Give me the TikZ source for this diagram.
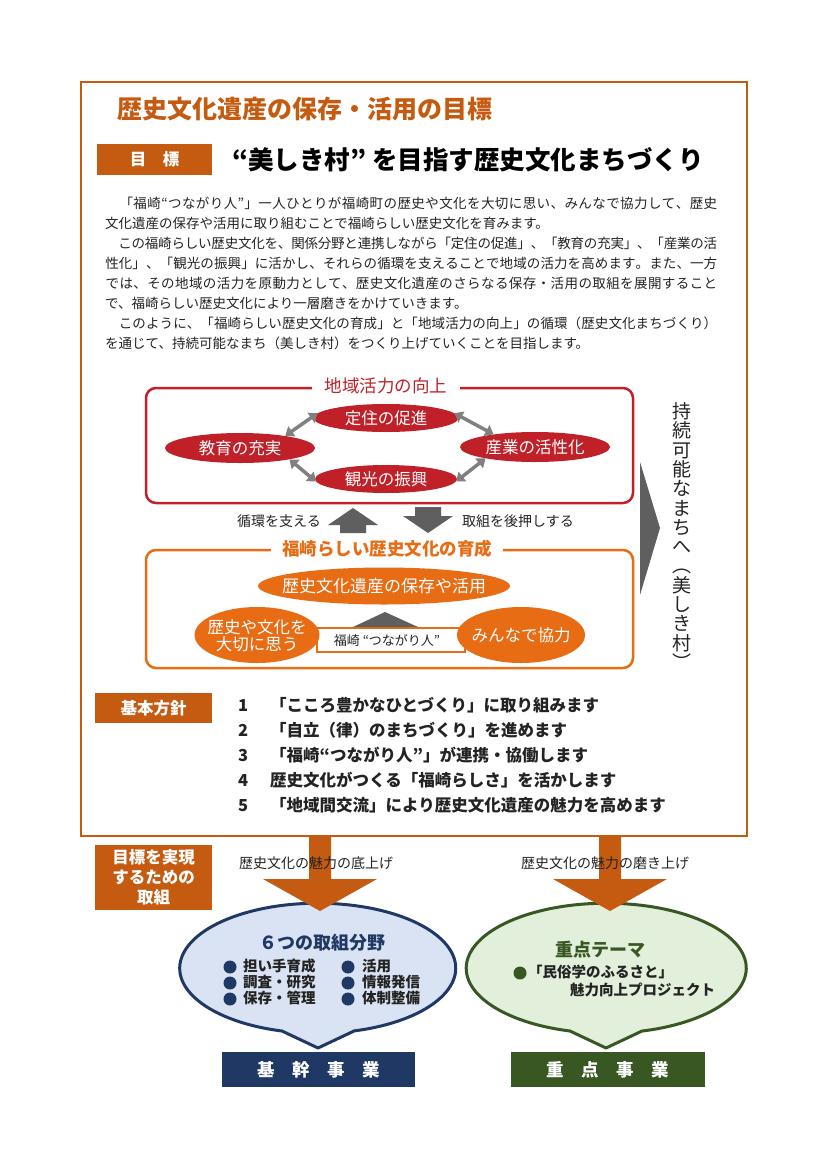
\documentclass[tikz,border=0pt]{standalone}
\usepackage{fontspec}
\setmainfont{Noto Sans CJK JP}
\usetikzlibrary{arrows.meta,shapes.geometric}
\definecolor{cBrown}{RGB}{197,90,17}
\definecolor{cRed}{RGB}{192,32,40}
\definecolor{cOrange}{RGB}{232,108,20}
\definecolor{cGray}{RGB}{128,128,128}
\definecolor{cDGray}{RGB}{95,95,95}
\definecolor{cNavy}{RGB}{31,56,100}
\definecolor{cLBlue}{RGB}{218,227,243}
\definecolor{cDGreen}{RGB}{56,87,35}
\definecolor{cLGreen}{RGB}{226,239,218}
\definecolor{cText}{RGB}{35,35,35}
% spread characters of a line to a fixed width
\def\jspreadloop#1{\ifx#1\relax\else\hskip 0pt plus 1pt minus 1pt#1\expandafter\jspreadloop\fi}
\newcommand{\jfull}[1]{\hbox to 612pt{\jspreadloop#1\relax}}
\tikzset{
  tagbox/.style={fill=cBrown, text=white, inner sep=0pt, font=\bfseries\fontsize{16.5}{20}\selectfont},
  para/.style={anchor=west, inner sep=0pt, text=cText, text height=11.5pt, text depth=2pt, font=\fontsize{13.5}{16}\selectfont},
  redell/.style={ellipse, fill=cRed, inner sep=0pt},
  orell/.style={ellipse, fill=cOrange, inner sep=0pt},
  wtxt/.style={text=white, inner sep=0pt, font=\fontsize{16.5}{18}\selectfont},
  wtxtb/.style={text=white, inner sep=0pt, align=center, font=\fontsize{17}{18}\selectfont},
  dbl/.style={draw=cGray, line width=3.5pt, {Triangle[length=8pt,width=12pt]}-{Triangle[length=8pt,width=12pt]}},
  lbl/.style={inner sep=0pt, text=cText, font=\fontsize{14}{16}\selectfont},
  item/.style={anchor=west, inner sep=0pt, text=cText, text height=13pt, text depth=2.5pt, font=\bfseries\fontsize{16.5}{20}\selectfont},
  bitem/.style={anchor=west, inner sep=0pt, text=cText, text height=11pt, text depth=2pt, font=\bfseries\fontsize{14.5}{16}\selectfont},
  bigarrow/.style={fill=cBrown},
  endbox/.style={text=white, inner sep=0pt, minimum height=35pt, font=\bfseries\fontsize{17.5}{20}\selectfont}
}
\begin{document}
\begin{tikzpicture}[x=1pt,y=-1pt]
\useasboundingbox[fill=white] (0,0) rectangle (827,1169);

% outer frame
\draw[cBrown, line width=2.5pt] (81,82) rectangle (747,836);

% title
\node[anchor=west, inner sep=0pt, text=cBrown, font=\bfseries\fontsize{25}{30}\selectfont] (title) at (117,109) {歴史文化遺産の保存・活用の目標};

% goal
\node[tagbox, minimum width=115pt, minimum height=31pt] (goaltag) at (154.5,159.5) {目　標};
\node[anchor=west, inner sep=0pt, text=black, font=\bfseries\fontsize{25.5}{30}\selectfont] (goal) at (232,160) {“美しき村” を目指す歴史文化まちづくり};

% paragraph
\node[para] (p1) at (105,204) {\jfull{　「福崎“つながり人”」一人ひとりが福崎町の歴史や文化を大切に思い、みんなで協力して、歴史}};
\node[para] (p2) at (105,224) {文化遺産の保存や活用に取り組むことで福崎らしい歴史文化を育みます。};
\node[para] (p3) at (105,244) {\jfull{　この福崎らしい歴史文化を、関係分野と連携しながら「定住の促進」、「教育の充実」、「産業の活}};
\node[para] (p4) at (105,264) {\jfull{性化」、「観光の振興」に活かし、それらの循環を支えることで地域の活力を高めます。また、一方}};
\node[para] (p5) at (105,284) {\jfull{では、その地域の活力を原動力として、歴史文化遺産のさらなる保存・活用の取組を展開すること}};
\node[para] (p6) at (105,304) {で、福崎らしい歴史文化により一層磨きをかけていきます。};
\node[para] (p7) at (105,324) {\jfull{　このように、「福崎らしい歴史文化の育成」と「地域活力の向上」の循環（歴史文化まちづくり）}};
\node[para] (p8) at (105,344) {を通じて、持続可能なまち（美しき村）をつくり上げていくことを目指します。};

% red box: regional vitality
\draw[cRed, line width=2.5pt, rounded corners=10pt] (146,388) rectangle (633,503);
\node[fill=white, inner xsep=13pt, inner ysep=2pt, text=cRed, font=\fontsize{17.5}{20}\selectfont] (rtitle) at (386,386) {地域活力の向上};

\node[redell, minimum width=145pt, minimum height=28pt] (teiju) at (386,418) {};
\node[wtxt] (teijut) at (teiju) {定住の促進};
\node[redell, minimum width=150pt, minimum height=30pt] (kyoiku) at (240,448) {};
\node[wtxt] (kyoikut) at (kyoiku) {教育の充実};
\node[redell, minimum width=150pt, minimum height=30pt] (sangyo) at (535,447) {};
\node[wtxt] (sangyot) at (sangyo) {産業の活性化};
\node[redell, minimum width=142pt, minimum height=28pt] (kanko) at (386,479) {};
\node[wtxt] (kankot) at (kanko) {観光の振興};

\draw[dbl] (kyoiku.15) -- (teiju.176);
\draw[dbl] (teiju.4) -- (sangyo.163);
\draw[dbl] (kyoiku.-13) -- (kanko.182);
\draw[dbl] (kanko.-2) -- (sangyo.193);

% connecting arrows
\fill[cDGray] (340,533) -- (340,525) -- (328,525) -- (353,508) -- (378,525) -- (366,525) -- (366,533) -- cycle;
\fill[cDGray] (415,507) -- (441,507) -- (441,516) -- (453,516) -- (428,533) -- (403,516) -- (415,516) -- cycle;
\node[lbl] (lsup) at (279,521) {循環を支える};
\node[lbl] (lpush) at (518,521) {取組を後押しする};

% orange box: cultivation of culture
\draw[cOrange, line width=2.5pt, rounded corners=10pt] (146,550) rectangle (633,668);
\node[fill=white, inner xsep=11pt, inner ysep=2pt, text=cOrange, font=\bfseries\fontsize{17.5}{20}\selectfont] (otitle) at (387,549) {福崎らしい歴史文化の育成};

\node[orell, minimum width=252pt, minimum height=37pt] (hozon) at (384,586) {};
\node[wtxtb] (hozont) at (hozon) {歴史文化遺産の保存や活用};
\node[draw=cOrange, line width=1.2pt, fill=white, minimum width=148pt, minimum height=24pt, inner sep=0pt] (band) at (391,640) {};
\fill[cDGray] (353,627) -- (385,612) -- (418,627) -- cycle;
\node[orell, minimum width=125pt, minimum height=56pt] (taisetsu) at (257,635) {};
\node[wtxtb, font=\fontsize{16.5}{17.5}\selectfont] (taisetsut) at (257,636) {歴史や文化を\\大切に思う};
\node[orell, minimum width=128pt, minimum height=56pt] (kyoryoku) at (521,635) {};
\node[wtxtb, font=\fontsize{16.5}{18}\selectfont] (kyoryokut) at (kyoryoku) {みんなで協力};
\node[inner sep=0pt, text=cText, font=\fontsize{13}{15}\selectfont] (bandt) at (387,641) {福崎 “つながり人”};

% sustainable town
\fill[cDGray] (640,462) -- (660,528) -- (640,595) -- cycle;
\node[inner sep=0pt, align=center, text=cText, font=\fontsize{19}{19.3}\selectfont] (sustain) at (682,536) {持\\続\\可\\能\\な\\ま\\ち\\へ\\︵\\美\\し\\き\\村\\︶};

% basic policy
\node[tagbox, minimum width=117pt, minimum height=30pt] (policytag) at (153.5,708) {基本方針};
\node[item] (n1) at (238,706) {1};
\node[item] (i1) at (270,706) {「こころ豊かなひとづくり」に取り組みます};
\node[item] (n2) at (238,731) {2};
\node[item] (i2) at (270,731) {「自立（律）のまちづくり」を進めます};
\node[item] (n3) at (238,756) {3};
\node[item] (i3) at (270,756) {「福崎“つながり人”」が連携・協働します};
\node[item] (n4) at (238,781) {4};
\node[item] (i4) at (270,781) {歴史文化がつくる「福崎らしさ」を活かします};
\node[item] (n5) at (238,806) {5};
\node[item] (i5) at (270,806) {「地域間交流」により歴史文化遺産の魅力を高めます};

% actions
\node[tagbox, minimum width=117pt, minimum height=65pt, align=center, font=\bfseries\fontsize{16.5}{20}\selectfont] (acttag) at (153.5,877.5) {目標を実現\\するための\\取組};

% bubbles
\filldraw[fill=cLBlue, draw=cNavy, line width=3pt, line join=round] (354,1031) -- (318,1048) -- (282,1031) arc[start angle=255, end angle=-75, x radius=138pt, y radius=65pt] -- cycle;
\filldraw[fill=cLGreen, draw=cDGreen, line width=3pt, line join=round] (642,1031) -- (606,1048) -- (570,1031) arc[start angle=255, end angle=-75, x radius=140pt, y radius=65pt] -- cycle;

% big arrows from frame
\fill[bigarrow] (309,836) -- (309,879) -- (263,879) -- (320,911) -- (377,879) -- (331,879) -- (331,836) -- cycle;
\fill[bigarrow] (599,836) -- (599,879) -- (553,879) -- (610,911) -- (667,879) -- (621,879) -- (621,836) -- cycle;
\node[lbl] (lbase) at (316,863) {歴史文化の魅力の底上げ};
\node[lbl] (lpolish) at (605,863) {歴史文化の魅力の磨き上げ};

% blue bubble content
\node[inner sep=0pt, text=cNavy, font=\bfseries\fontsize{18}{20}\selectfont] (six) at (322,943) {６つの取組分野};
\fill[cNavy] (230,967) circle (6.5pt);
\fill[cNavy] (230,983) circle (6.5pt);
\fill[cNavy] (230,999) circle (6.5pt);
\fill[cNavy] (348,967) circle (6.5pt);
\fill[cNavy] (348,983) circle (6.5pt);
\fill[cNavy] (348,999) circle (6.5pt);
\node[bitem] (a1) at (243,967) {担い手育成};
\node[bitem] (a2) at (243,983) {調査・研究};
\node[bitem] (a3) at (243,999) {保存・管理};
\node[bitem] (a4) at (362,967) {活用};
\node[bitem] (a5) at (362,983) {情報発信};
\node[bitem] (a6) at (362,999) {体制整備};

% green bubble content
\node[inner sep=0pt, text=cDGreen, font=\bfseries\fontsize{18}{20}\selectfont] (theme) at (600,950) {重点テーマ};
\fill[cDGreen] (520,973) circle (6.5pt);
\node[bitem] (g1) at (528,973) {「民俗学のふるさと」};
\node[bitem] (g2) at (570,991) {魅力向上プロジェクト};

% end boxes
\node[endbox, fill=cNavy, minimum width=193pt] (kikan) at (318.5,1069.5) {基　幹　事　業};
\node[endbox, fill=cDGreen, minimum width=194pt] (juten) at (608,1069.5) {重　点　事　業};
\end{tikzpicture}
\end{document}
